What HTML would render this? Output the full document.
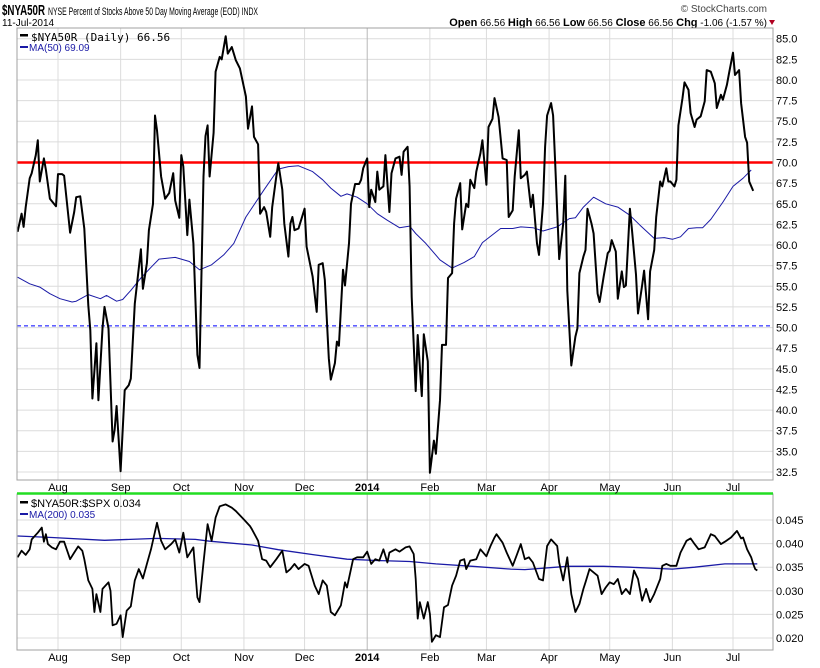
<!DOCTYPE html>
<html><head><meta charset="utf-8"><style>
html,body{margin:0;padding:0;background:#fff;}
svg{display:block;font-family:"Liberation Sans",sans-serif;}
</style></head><body>
<svg id="c" width="820" height="668" viewBox="0 0 820 668" xmlns="http://www.w3.org/2000/svg">
<text x="2" y="15" font-size="15" font-weight="bold" textLength="43" lengthAdjust="spacingAndGlyphs">$NYA50R</text>
<text x="48" y="15" font-size="11" textLength="210" lengthAdjust="spacingAndGlyphs">NYSE Percent of Stocks Above 50 Day Moving Average (EOD) INDX</text>
<text x="2" y="26" font-size="10">11-Jul-2014</text>
<text x="767" y="12" font-size="10" fill="#444" text-anchor="end">© StockCharts.com</text>
<text x="767" y="26" font-size="10" text-anchor="end"><tspan font-weight="bold" font-size="11">Open</tspan> 66.56 <tspan font-weight="bold" font-size="11">High</tspan> 66.56 <tspan font-weight="bold" font-size="11">Low</tspan> 66.56 <tspan font-weight="bold" font-size="11">Close</tspan> 66.56 <tspan font-weight="bold" font-size="11">Chg</tspan> -1.06 (-1.57 %)</text>
<polygon points="769,20 775,20 772,25" fill="#b00020"/>
<g id="main"></g><g id="sub"></g>
</svg>
<script>
// ---- main panel data (days since 2013-08-01) ----
const priceDays=[-20,-18,-17,-16,-14,-13,-11,-10,-9,-7,-6,-4,-1,0,2,3,6,8,9,11,13,15,16,17,19,20,22,23,25,27,28,29,31,33,35,36,38,41,42,44,45,47,48,49,51,53,55,57,58,60,61,62,64,65,67,69,70,72,73,74,75,77,78,80,81,83,84,86,88,90,93,94,96,97,99,100,102,103,105,106,108,109,111,112,114,115,116,117,119,122,123,126,128,129,131,132,134,135,137,138,139,141,142,144,145,147,149,150,151,153,154,155,157,158,159,161,162,164,165,167,169,170,171,173,174,175,177,178,180,181,183,184,186,187,189,190,192,193,195,196,197,199,200,202,203,204,206,207,209,210,212,213,215,216,218,220,222,223,225,226,228,229,231,232,234,235,237,238,240,241,242,244,245,246,248,250,251,252,254,256,257,258,260,261,262,264,265,267,268,270,272,273,274,276,277,279,280,281,283,284,286,287,289,290,292,293,295,296,298,299,301,302,303,305,306,307,309,310,312,313,315,316,318,320,321,323,325,326,328,329,331,332,334,335,337,338,340,341,342,344];
const priceVals=[61.6,63.8,62.2,64.6,68.1,68.7,70.9,72.7,67.7,70.5,69.1,65.6,64.7,68.6,68.6,68.4,61.5,64.0,65.8,65.9,62.0,52.7,49.7,41.4,48.1,41.2,49.9,52.5,49.9,36.2,37.6,40.5,32.6,42.4,43.0,43.8,52.9,59.5,54.7,57.8,61.8,65.0,75.7,73.9,68.3,65.6,66.3,68.7,65.4,63.3,70.9,69.5,61.2,65.5,60.2,46.7,45.1,68.3,73.2,74.5,68.3,73.6,81.0,82.8,82.5,85.3,83.2,84.0,82.4,81.4,78.0,74.1,76.8,73.1,72.2,63.8,64.6,64.0,61.0,64.6,68.3,69.9,66.7,62.6,58.6,62.6,63.4,61.8,62.0,64.4,59.8,56.2,51.9,57.6,57.8,55.8,46.3,43.7,45.7,48.3,47.8,57.0,55.1,60.2,65.0,67.4,67.4,67.9,69.3,70.5,64.6,66.7,65.2,68.9,66.7,67.1,70.9,64.0,68.7,70.5,70.7,68.5,71.3,71.9,67.1,53.7,42.3,49.1,41.7,49.2,45.9,32.4,36.3,34.7,41.2,47.9,47.9,56.0,56.6,62.6,65.6,67.5,61.9,65.0,64.6,67.9,66.9,68.9,71.1,72.7,67.3,74.3,75.3,77.8,75.5,70.5,70.3,63.4,64.2,68.3,73.9,68.1,68.5,68.9,64.6,66.1,60.2,58.8,65.0,71.9,75.7,77.2,75.7,69.9,58.3,62.6,68.4,54.5,45.4,48.9,49.9,56.6,58.6,59.4,64.4,62.6,61.4,54.1,53.1,56.2,59.0,59.3,60.6,59.2,53.5,56.8,54.9,55.1,64.4,61.8,56.4,51.7,55.1,56.9,51.0,56.8,59.4,63.4,67.7,67.1,69.3,67.7,67.7,67.1,67.9,74.5,77.8,79.7,78.8,76.0,74.3,75.2,75.6,77.4,81.2,81.0,79.6,76.6,78.2,77.6,79.4,80.8,83.3,80.6,81.2,77.2,73.1,72.4,67.7,66.56];
const maDays=[-20,-14,-9,-4,1,7,9,15,21,24,29,32,36,41,46,50,58,65,70,76,82,87,93,102,109,114,119,126,131,135,140,143,148,153,158,163,169,174,177,182,189,195,201,206,210,219,225,229,235,240,247,253,256,260,265,271,277,283,288,295,300,304,308,312,316,319,323,329,334,339,343];
const maVals=[56.1,55.3,54.9,54.1,53.5,53.1,53.2,54.0,53.5,53.9,53.2,53.4,54.5,56.0,57.3,58.3,58.5,58.0,57.0,57.6,58.8,60.2,63.4,66.7,69.2,69.5,69.6,68.9,67.9,66.9,65.9,66.2,65.8,65.0,63.8,63.0,62.1,62.3,61.4,60.2,58.2,57.2,57.9,58.6,60.3,62.0,62.0,62.2,62.1,61.7,62.2,63.2,63.3,64.6,65.8,65.0,64.6,63.6,62.4,60.8,60.9,60.7,61.0,62.0,62.1,62.1,63.1,65.2,67.1,68.1,69.09];
const mainTicks=["32.5","35.0","37.5","40.0","42.5","45.0","47.5","50.0","52.5","55.0","57.5","60.0","62.5","65.0","67.5","70.0","72.5","75.0","77.5","80.0","82.5","85.0"];
const redLevel=70.0, blueLevel=50.2;
// ---- sub panel data ----
const ratioDays=[-20,-18,-16,-14,-13,-10,-8,-7,-6,-5,-3,-1,1,3,6,8,10,12,13,15,17,18,19,21,22,25,26,27,29,31,32,34,36,38,40,42,44,46,49,51,53,56,58,60,62,64,67,69,70,72,74,76,78,80,83,86,88,92,95,96,99,101,103,105,108,111,113,115,117,119,122,124,125,127,129,131,133,135,137,140,142,143,146,148,151,153,155,157,159,161,163,164,167,169,172,174,176,177,178,179,181,183,184,185,187,189,191,193,195,197,199,201,202,204,207,209,212,214,216,217,220,222,225,227,229,231,233,235,238,240,242,244,247,248,250,252,254,256,258,260,261,263,265,267,269,271,273,275,277,279,281,283,285,287,289,291,293,295,298,299,301,303,306,308,311,313,315,317,320,323,325,328,330,333,336,338,339,341,343,344,345,346];
const ratioVals=[0.0371,0.0385,0.0376,0.0388,0.0409,0.0423,0.0434,0.0404,0.0420,0.0399,0.0392,0.0388,0.0404,0.0404,0.0367,0.0381,0.0394,0.0385,0.0367,0.0322,0.0304,0.0255,0.0293,0.0255,0.0304,0.0318,0.0300,0.0227,0.0230,0.0248,0.0202,0.0258,0.0267,0.0322,0.0346,0.0326,0.0357,0.0388,0.0444,0.0406,0.0388,0.0399,0.0409,0.0381,0.0423,0.0371,0.0392,0.0286,0.0276,0.0360,0.0441,0.0406,0.0455,0.0479,0.0483,0.0476,0.0469,0.0451,0.0437,0.0430,0.0406,0.0367,0.0364,0.0350,0.0367,0.0385,0.0339,0.0346,0.0357,0.0346,0.0357,0.0353,0.0339,0.0311,0.0293,0.0322,0.0311,0.0255,0.0248,0.0269,0.0318,0.0307,0.0367,0.0371,0.0371,0.0383,0.0357,0.0367,0.0364,0.0388,0.0360,0.0381,0.0388,0.0383,0.0392,0.0394,0.0378,0.0325,0.0241,0.0276,0.0241,0.0276,0.0251,0.0192,0.0206,0.0202,0.0265,0.0270,0.0311,0.0332,0.0364,0.0367,0.0346,0.0364,0.0367,0.0388,0.0373,0.0395,0.0413,0.0420,0.0402,0.0381,0.0353,0.0376,0.0399,0.0367,0.0371,0.0360,0.0325,0.0322,0.0395,0.0409,0.0395,0.0360,0.0322,0.0371,0.0293,0.0255,0.0272,0.0304,0.0318,0.0346,0.0339,0.0332,0.0293,0.0307,0.0318,0.0314,0.0325,0.0293,0.0304,0.0293,0.0343,0.0325,0.0279,0.0304,0.0276,0.0293,0.0325,0.0353,0.0357,0.0353,0.0353,0.0381,0.0406,0.0411,0.0399,0.0388,0.0392,0.0420,0.0416,0.0399,0.0404,0.0413,0.0427,0.0411,0.0413,0.0388,0.0371,0.0357,0.0346,0.0343];
const ma200Days=[-20,-3,23,49,68,75,96,109,127,143,159,174,187,205,224,231,252,270,283,304,315,330,346];
const ma200Vals=[0.0416,0.0413,0.0407,0.0411,0.0409,0.0405,0.0397,0.0387,0.0376,0.0367,0.0364,0.0362,0.0357,0.0352,0.0346,0.0345,0.0352,0.0352,0.0350,0.0346,0.0350,0.0357,0.0357];
const subTicks=["0.020","0.025","0.030","0.035","0.040","0.045"];
const months=["Aug","Sep","Oct","Nov","Dec","2014","Feb","Mar","Apr","May","Jun","Jul"];
const monthDays=[0,31,61,92,122,153,184,212,243,273,304,334];

const NS="http://www.w3.org/2000/svg";
const L=17,R=773;
const xS=d=>58+(d-0)*(733-58)/334;
const yM=v=>38.7+(85-v)*(433.3/52.5);
const yS=v=>520+(0.045-v)*(118/0.025);
function mk(tag,at,parent){const e=document.createElementNS(NS,tag);for(const k in at)e.setAttribute(k,at[k]);parent.appendChild(e);return e;}
const gm=document.getElementById('main'), gs=document.getElementById('sub');

function panel(g,top,bot,ticks,yf,name){
  mk('rect',{x:L,y:top,width:R-L,height:bot-top,fill:'#fff'},g);
  ticks.forEach(t=>{const y=yf(parseFloat(t));
    const ln=mk('line',{x1:L,x2:R,y1:y,y2:y,stroke:'#dcdcdc','stroke-width':1},g);
    
    const tx=mk('text',{x:R+3,y:y+4,'font-size':11,fill:'#000'},g);tx.textContent=t;
    
  });
  monthDays.forEach((d,i)=>{const x=xS(d);
    const ln=mk('line',{x1:x,x2:x,y1:top,y2:bot,stroke:months[i]==='2014'?'#b8b8b8':'#dcdcdc','stroke-width':1},g);
    
  });
}
function line(g,days,vals,xf,yf,col,w,name){
  const p=days.map((d,i)=>xf(d).toFixed(1)+','+yf(vals[i]).toFixed(1)).join(' ');
  const e=mk('polyline',{points:p,fill:'none',stroke:col,'stroke-width':w,'stroke-linejoin':'round'},g);
  
}
// main
panel(gm,28,480,mainTicks,yM,'main-y');
let e=mk('line',{x1:L,x2:R,y1:yM(redLevel),y2:yM(redLevel),stroke:'#ff0000','stroke-width':2.5},gm);

e=mk('line',{x1:L,x2:R,y1:yM(blueLevel),y2:yM(blueLevel),stroke:'#0000ff','stroke-width':1,'stroke-dasharray':'4,3'},gm);

line(gm,maDays,maVals,xS,yM,'#1a1aa6',1,'ma50-line');
line(gm,priceDays,priceVals,xS,yM,'#000',2,'price-line');
e=mk('rect',{x:L,y:28,width:R-L,height:452,fill:'none',stroke:'#a0a0a0'},gm);

// main legend
e=mk('rect',{x:20,y:34,width:8,height:2.5,fill:'#000'},gm);
e=mk('text',{x:31,y:41,'font-size':11,'font-family':'DejaVu Sans Mono, monospace'},gm);e.textContent='$NYA50R (Daily) 66.56';

mk('rect',{x:20,y:46,width:8,height:2,fill:'#1a1aa6'},gm);
e=mk('text',{x:29,y:51,'font-size':10,fill:'#1a1aa6'},gm);e.textContent='MA(50) 69.09';

// month labels
function mlabels(y){monthDays.forEach((d,i)=>{const t=mk('text',{x:xS(d),y:y,'font-size':11,'text-anchor':'middle','font-weight':months[i]==='2014'?'bold':'normal'},document.getElementById('sub'));t.textContent=months[i];
  });}
// sub
panel(gs,494,650,subTicks,yS,'sub-y');
line(gs,ma200Days,ma200Vals,xS,yS,'#1a1aa6',1.3,'ma200-line');
line(gs,ratioDays,ratioVals,xS,yS,'#000',1.8,'ratio-line');
e=mk('rect',{x:L,y:494,width:R-L,height:156,fill:'none',stroke:'#a0a0a0'},gs);

e=mk('line',{x1:L,x2:R,y1:493.5,y2:493.5,stroke:'#22dd22','stroke-width':2.5},gs);

mk('rect',{x:20,y:501,width:8,height:2.5,fill:'#000'},gs);
e=mk('text',{x:31,y:507,'font-size':11},gs);e.textContent='$NYA50R:$SPX 0.034';

mk('rect',{x:20,y:513,width:8,height:2,fill:'#1a1aa6'},gs);
e=mk('text',{x:29,y:518,'font-size':10,fill:'#1a1aa6'},gs);e.textContent='MA(200) 0.035';

mlabels(491);mlabels(661);
</script>
</body></html>
